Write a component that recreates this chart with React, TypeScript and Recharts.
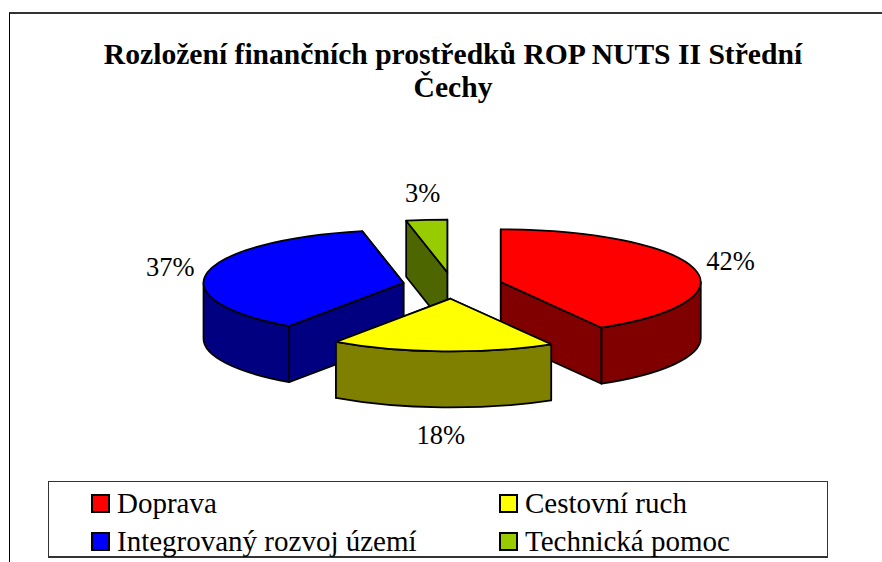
import { PieChart, Pie, Legend } from "recharts"

const categories = ["Doprava", "Cestovní ruch", "Integrovaný rozvoj území", "Technická pomoc"]
const shares = [41.6, 18.1, 37.0, 3.3]
const topColors = ["#ff0000", "#ffff00", "#0000ff", "#99cc00"]
const sideColors = ["#800000", "#808000", "#000080", "#4d6600"]
const titleLines = ["Rozložení finančních prostředků ROP NUTS II Střední", "Čechy"]

const data = categories.map((name, i) => ({
  name,
  value: shares[i],
  fill: topColors[i],
  side: sideColors[i],
}))

const FONT = "'Liberation Serif', 'Times New Roman', serif"
const TILT = 0.264 // ellipse height / width
const DEPTH = 56
const EXPLODE = 0.25
const FRONT_SLICE = "Cestovní ruch"

const rad = (d: number) => (d * Math.PI) / 180

// recharts gives math angles, here 0 = top and clockwise
const project = (cx: number, cy: number, r: number, clock: number) => ({
  x: cx + r * Math.sin(rad(clock)),
  y: cy - r * TILT * Math.cos(rad(clock)),
})

function sliceCentre(p: any) {
  const mid = 90 - p.midAngle
  return project(p.cx, p.cy, p.outerRadius * EXPLODE, mid)
}

function Slice3D(p: any) {
  const r = p.outerRadius
  const ry = r * TILT
  const c = sliceCentre(p)
  const a0 = 90 - p.startAngle
  const a1 = 90 - p.endAngle
  const s = project(c.x, c.y, r, a0)
  const e = project(c.x, c.y, r, a1)
  const large = a1 - a0 > 180 ? 1 : 0
  const stroke = { stroke: "#000", strokeWidth: 1.75, strokeLinejoin: "round" as const }

  const face = (q: { x: number; y: number }) =>
    `M${c.x},${c.y} L${q.x},${q.y} L${q.x},${q.y + DEPTH} L${c.x},${c.y + DEPTH} Z`

  // the cut face further back goes first
  const faces = s.y < e.y ? [s, e] : [e, s]

  // outer wall is only seen on the front half of the ellipse
  const w0 = Math.max(a0, 90)
  const w1 = Math.min(a1, 270)
  let wall = ""
  if (w1 > w0) {
    const ws = project(c.x, c.y, r, w0)
    const we = project(c.x, c.y, r, w1)
    wall =
      `M${ws.x},${ws.y} A${r},${ry} 0 0 1 ${we.x},${we.y} ` +
      `L${we.x},${we.y + DEPTH} A${r},${ry} 0 0 0 ${ws.x},${ws.y + DEPTH} Z`
  }

  return (
    <g>
      <path d={face(faces[0])} fill={p.side} {...stroke} />
      <path d={face(faces[1])} fill={p.side} {...stroke} />
      {wall && <path d={wall} fill={p.side} {...stroke} />}
      <path
        d={`M${c.x},${c.y} L${s.x},${s.y} A${r},${ry} 0 ${large} 1 ${e.x},${e.y} Z`}
        fill={p.fill}
        {...stroke}
      />
    </g>
  )
}

const backShape = (p: any) => (p.name === FRONT_SLICE ? <g /> : <Slice3D {...p} />)
const frontShape = (p: any) => (p.name === FRONT_SLICE ? <Slice3D {...p} /> : <g />)

function PercentLabel(p: any) {
  const c = sliceCentre(p)
  const mid = 90 - p.midAngle
  const cos = Math.cos(rad(mid))
  const x = c.x + 238 * Math.sin(rad(mid))
  const y = c.y - 80 * cos + (cos < 0 ? -DEPTH * cos : 0)
  return (
    <text x={x} y={y} textAnchor="middle" dominantBaseline="central" fontFamily={FONT} fontSize={26.5} fill="#000">
      {`${Math.round(p.value)}%`}
    </text>
  )
}

function LegendBox({ payload }: any) {
  // both pies report their slices, keep one entry per category
  const items = categories
    .map((name) => (payload || []).find((it: any) => it.value === name))
    .filter(Boolean)
  return (
    <div
      style={{
        display: "grid",
        gridTemplateColumns: "408px 1fr",
        gridAutoRows: "38px",
        boxSizing: "border-box",
        width: 780,
        height: 77,
        padding: "2px 0 0 42px",
        border: "1px solid #333",
        borderBottomWidth: 2,
        background: "#fff",
        fontFamily: FONT,
        fontSize: 29,
        color: "#000",
      }}
    >
      {items.map((it: any) => (
        <div key={it.value} style={{ display: "flex", alignItems: "center", whiteSpace: "nowrap" }}>
          <span
            style={{
              boxSizing: "border-box",
              width: 19,
              height: 19,
              marginRight: 7,
              border: "2px solid #000",
              background: it.color,
            }}
          />
          {it.value}
        </div>
      ))}
    </div>
  )
}

export default function App() {
  return (
    <div
      style={{
        position: "absolute",
        left: 0,
        top: 0,
        width: 882,
        height: 562,
        overflow: "hidden",
        background: "#fff",
      }}
    >
      <div
        style={{
          position: "absolute",
          left: 9,
          top: 12,
          width: 873,
          height: 550,
          boxSizing: "border-box",
          borderTop: "2px solid #333",
          borderLeft: "1px solid #000",
        }}
      />
      <PieChart width={882} height={562} margin={{ top: 0, right: 0, bottom: 0, left: 0 }}>
        {titleLines.map((line, i) => (
          <text
            key={line}
            x={453}
            y={64 + i * 33}
            textAnchor="middle"
            fontFamily={FONT}
            fontWeight="bold"
            fontSize={29.6}
            fill="#000"
          >
            {line}
          </text>
        ))}
        <Pie
          data={data}
          dataKey="value"
          nameKey="name"
          cx={452.5}
          cy={285.5}
          outerRadius={200}
          startAngle={90}
          endAngle={-270}
          isAnimationActive={false}
          shape={backShape}
          label={PercentLabel}
          labelLine={false}
        />
        <Pie
          data={data}
          dataKey="value"
          nameKey="name"
          cx={452.5}
          cy={285.5}
          outerRadius={200}
          startAngle={90}
          endAngle={-270}
          isAnimationActive={false}
          shape={frontShape}
          legendType="none"
        />
        <Legend
          content={LegendBox}
          wrapperStyle={{ position: "absolute", left: 48, top: 481, width: 780, height: 77 }}
        />
      </PieChart>
    </div>
  )
}
